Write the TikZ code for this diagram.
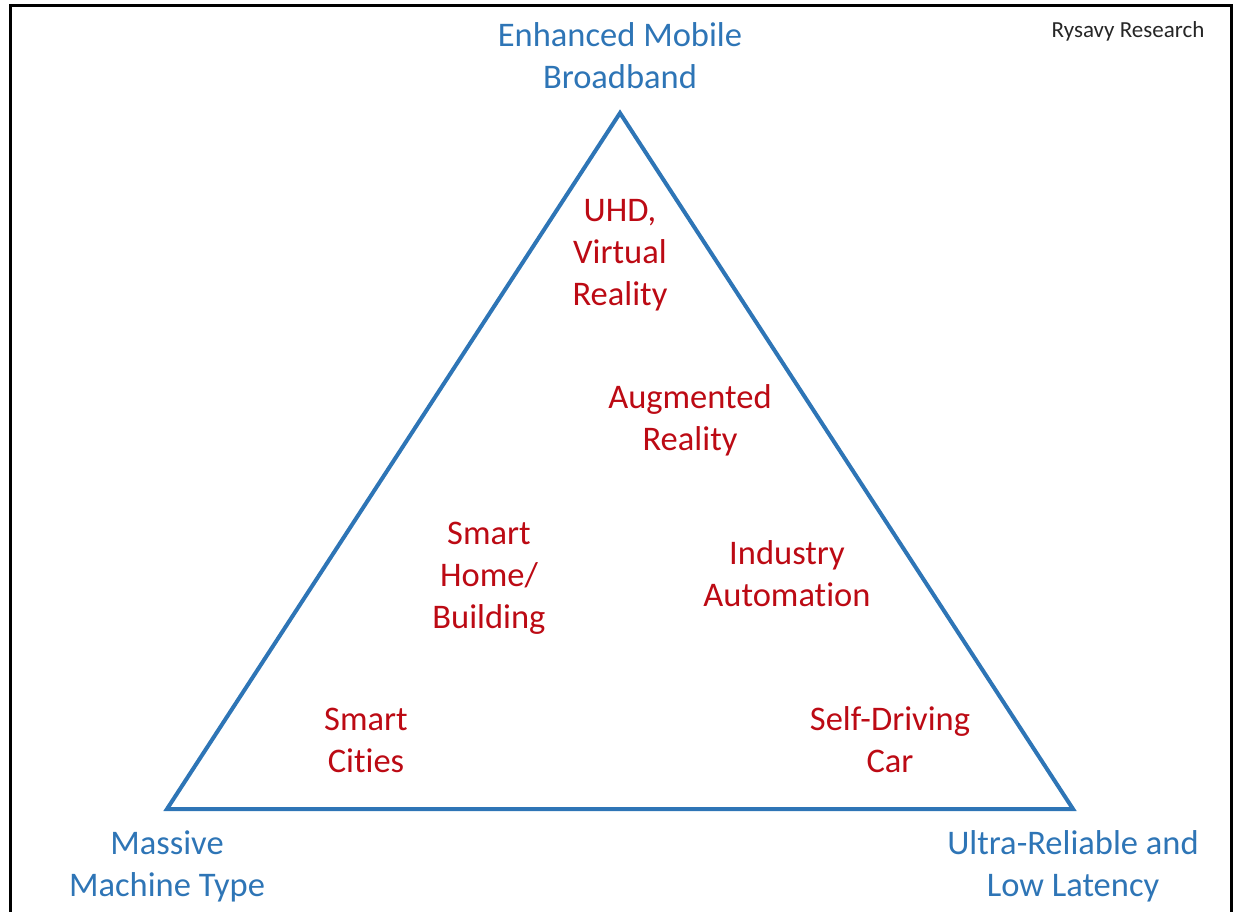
\documentclass[tikz,border=0pt]{standalone}
\usepackage{fontspec}
\setmainfont[Ligatures=NoCommon]{Carlito}
\usetikzlibrary{positioning}
\definecolor{RRBlue}{HTML}{2E75B6}
\definecolor{RRRed}{HTML}{BC0A14}
\definecolor{RRGray}{HTML}{262626}
\tikzset{
  corner/.style={align=center, text=RRBlue, font=\fontsize{34.5}{42}\selectfont, inner sep=0pt},
  usecase/.style={align=center, text=RRRed, font=\fontsize{34.5}{42}\selectfont, inner sep=0pt},
  credit/.style={text=RRGray, font=\fontsize{23}{28}\selectfont, inner sep=0pt},
  edge/.style={draw=RRBlue, line width=4pt}
}

\begin{document}
\begin{tikzpicture}[x=1pt, y=-1pt, node distance=20pt]
  \useasboundingbox (0,0) rectangle (1234,912);
  % frame
  \draw[line width=3pt] (10,930) -- (10,6) -- (1231,6) -- (1231,930);
  \node (credit) [credit] at (1128,31) {Rysavy Research};

  % triangle corners
  \coordinate (embb) at (620,113);
  \coordinate (mmtc) at (167,809);
  \coordinate (urllc) at (1073,809);
  \draw[edge] (embb) -- (mmtc) -- (urllc) -- cycle;

  \node (embblabel) [corner, above=24pt of embb] {Enhanced Mobile\\Broadband};
  \node (mmtclabel) [corner, below=22pt of mmtc] {Massive\\Machine Type};
  \node (urllclabel) [corner, below=21pt of urllc] {Ultra-Reliable and\\Low Latency};

  % use cases
  \node (uhd) [usecase] at (620,255) {UHD,\\Virtual\\Reality};
  \node (augmented) [usecase] at (690,420) {Augmented\\Reality};
  \node (home) [usecase] at (489,578) {Smart\\Home/\\Building};
  \node (industry) [usecase] at (787,574) {Industry\\Automation};
  \node (cities) [usecase] at (366,740) {Smart\\Cities};
  \node (car) [usecase] at (890,740) {Self-Driving\\Car};
\end{tikzpicture}
\end{document}
